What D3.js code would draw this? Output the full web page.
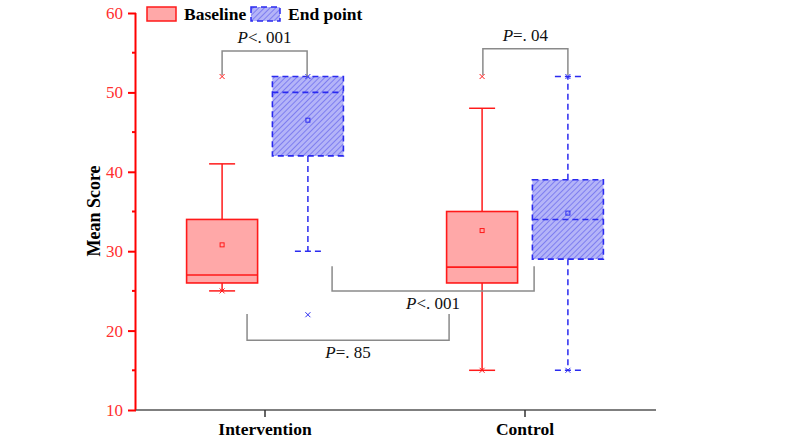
<!DOCTYPE html>
<html><head><meta charset="utf-8">
<script src="https://cdn.jsdelivr.net/npm/d3@7"></script>
<style>body{margin:0;background:#fff}svg{display:block}text{font-family:"Liberation Serif","Times New Roman",serif}</style>
</head><body>
<svg id="chart" width="800" height="443"></svg>
<script>
// ---- data ----
const groups = ["Intervention", "Control"];
const seriesNames = ["Baseline", "End point"];
const yTicks = [10, 20, 30, 40, 50, 60];
// [whiskerLow, Q1, median, Q3, whiskerHigh]
const baselineBox = [[25, 26, 27, 34, 41], [15, 26, 28, 35, 48]];
const endpointBox = [[30, 42, 50, 52, 52], [15, 29, 34, 39, 52]];
const baselineMean = [30.8, 32.6];
const endpointMean = [46.5, 34.8];
// [min, max] markers
const baselineMinMax = [[25, 52], [15, 52]];
const endpointMinMax = [[22, 52], [15, 52]];
// comparison brackets: [x1, x2] in group units, legEnd1, legEnd2, bar level
const pLabels = ["P<. 001", "P=. 04", "P<. 001", "P=. 85"];
const bracketX = [[0.835, 1.162], [1.838, 2.165], [1.258, 2.035], [0.931, 1.708]];
const bracketLeg = [[52.2, 52], [52.2, 52.2], [28.1, 28.1], [22.1, 22.1]];
const bracketBar = [55.2, 55.5, 25.0, 18.8];

// ---- layout ----
const svg = d3.select("#chart");
const y = d3.scaleLinear().domain([10, 60]).range([410, 13]);
const x = d3.scaleLinear().domain([1, 2]).range([265, 525]);
const axisX0 = 136, axisX1 = 656;
const offset = 0.165, halfW = 35.5, capHalf = 13;

const defs = svg.append("defs");
const pat = defs.append("pattern").attr("id", "hatch").attr("patternUnits", "userSpaceOnUse")
  .attr("width", 4).attr("height", 4).attr("patternTransform", "rotate(45)");
pat.append("rect").attr("width", 4).attr("height", 4).attr("fill", "#b4b4f8");
pat.append("line").attr("x1", 0.5).attr("y1", 0).attr("x2", 0.5).attr("y2", 4)
  .attr("stroke", "#7070ee").attr("stroke-width", 0.8);

// ---- axes ----
const yAxis = d3.axisLeft(y).tickValues(yTicks).tickSize(8).tickPadding(5).tickFormat(d3.format("d"));
const gy = svg.append("g").attr("transform", `translate(${axisX0},0)`).call(yAxis);
gy.select(".domain").attr("stroke", "#ff0000").attr("stroke-width", 2).attr("d", `M-0.5,${y(10)}V${y(60)}`);
gy.selectAll(".tick line").attr("stroke", "#ff0000").attr("stroke-width", 2);
gy.selectAll(".tick text").attr("fill", "#ff3030").style("font-size", "17px");
// minor ticks
gy.selectAll(".minor").data([15, 25, 35, 45, 55]).join("line")
  .attr("x1", -4).attr("x2", 0).attr("y1", d => y(d)).attr("y2", d => y(d))
  .attr("stroke", "#ff0000").attr("stroke-width", 2);

// x axis
svg.append("line").attr("x1", axisX0).attr("x2", axisX1).attr("y1", y(10)).attr("y2", y(10))
  .attr("stroke", "#555").attr("stroke-width", 1.6);
groups.forEach((g, i) => {
  const cx = x(i + 1);
  svg.append("line").attr("x1", cx).attr("x2", cx).attr("y1", y(10)).attr("y2", y(10) + 7)
    .attr("stroke", "#333").attr("stroke-width", 1.5);
  svg.append("text").attr("x", cx).attr("y", 435).attr("text-anchor", "middle")
    .style("font-size", "17.5px").style("font-weight", "bold").text(g);
});
svg.append("text").attr("transform", `translate(100,211) rotate(-90)`).attr("text-anchor", "middle")
  .style("font-size", "18px").style("font-weight", "bold").text("Mean Score");

// ---- boxes ----
function drawBox(box, mean, mm, i, dir, style) {
  const cx = x(i + 1 + dir * offset);
  const [lo, q1, med, q3, hi] = box;
  const g = svg.append("g");
  const dash = style.dash;
  g.append("line").attr("x1", cx).attr("x2", cx).attr("y1", y(q1)).attr("y2", y(lo))
    .attr("stroke", style.stroke).attr("stroke-width", 1.5).attr("stroke-dasharray", dash);
  g.append("line").attr("x1", cx).attr("x2", cx).attr("y1", y(q3)).attr("y2", y(hi))
    .attr("stroke", style.stroke).attr("stroke-width", 1.5).attr("stroke-dasharray", dash);
  [lo, hi].forEach(v => {
    if (v === q3) return;
    g.append("line").attr("x1", cx - capHalf).attr("x2", cx + capHalf).attr("y1", y(v)).attr("y2", y(v))
      .attr("stroke", style.stroke).attr("stroke-width", 1.5).attr("stroke-dasharray", dash);
  });
  g.append("rect").attr("x", cx - halfW).attr("y", y(q3)).attr("width", 2 * halfW).attr("height", y(q1) - y(q3))
    .attr("fill", style.fill).attr("stroke", style.stroke).attr("stroke-width", 1.6).attr("stroke-dasharray", dash);
  g.append("line").attr("x1", cx - halfW).attr("x2", cx + halfW).attr("y1", y(med)).attr("y2", y(med))
    .attr("stroke", style.stroke).attr("stroke-width", 1.6).attr("stroke-dasharray", dash);
  g.append("rect").attr("x", cx - 2).attr("y", y(mean) - 2).attr("width", 4).attr("height", 4)
    .attr("fill", "none").attr("stroke", style.stroke).attr("stroke-width", 1);
  mm.forEach(v => {
    const yy = y(v);
    g.append("path").attr("d", `M${cx-2.5},${yy-2.5}L${cx+2.5},${yy+2.5}M${cx-2.5},${yy+2.5}L${cx+2.5},${yy-2.5}`)
      .attr("stroke", style.stroke).attr("stroke-width", 1);
  });
}
const baseStyle = {fill: "#ffa8a8", stroke: "#ff1a1a", dash: null};
const endStyle = {fill: "url(#hatch)", stroke: "#2a2af0", dash: "6,4"};
groups.forEach((g, i) => {
  drawBox(baselineBox[i], baselineMean[i], baselineMinMax[i], i, -1, baseStyle);
  drawBox(endpointBox[i], endpointMean[i], endpointMinMax[i], i, 1, endStyle);
});

// ---- brackets ----
pLabels.forEach((lab, k) => {
  const x1 = x(bracketX[k][0]), x2 = x(bracketX[k][1]);
  const yb = y(bracketBar[k]);
  svg.append("path")
    .attr("d", `M${x1},${y(bracketLeg[k][0])}V${yb}H${x2}V${y(bracketLeg[k][1])}`)
    .attr("fill", "none").attr("stroke", "#8a8a8a").attr("stroke-width", 1.5);
  const above = bracketBar[k] > bracketLeg[k][0];
  const t = svg.append("text").attr("x", (x1 + x2) / 2).attr("y", above ? yb - 8 : yb + 18)
    .attr("text-anchor", "middle").style("font-size", "17px").attr("fill", "#111");
  t.append("tspan").style("font-style", "italic").text(lab[0]);
  t.append("tspan").text(lab.slice(1));
});

// ---- legend ----
const legX = [147, 251];
seriesNames.forEach((s, k) => {
  const st = k === 0 ? baseStyle : endStyle;
  svg.append("rect").attr("x", legX[k]).attr("y", 7).attr("width", 29).attr("height", 14)
    .attr("fill", st.fill).attr("stroke", st.stroke).attr("stroke-width", 1.5).attr("stroke-dasharray", st.dash);
  svg.append("text").attr("x", legX[k] + 37).attr("y", 20).style("font-size", "17.5px")
    .style("font-weight", "bold").text(s);
});
</script>
</body></html>
